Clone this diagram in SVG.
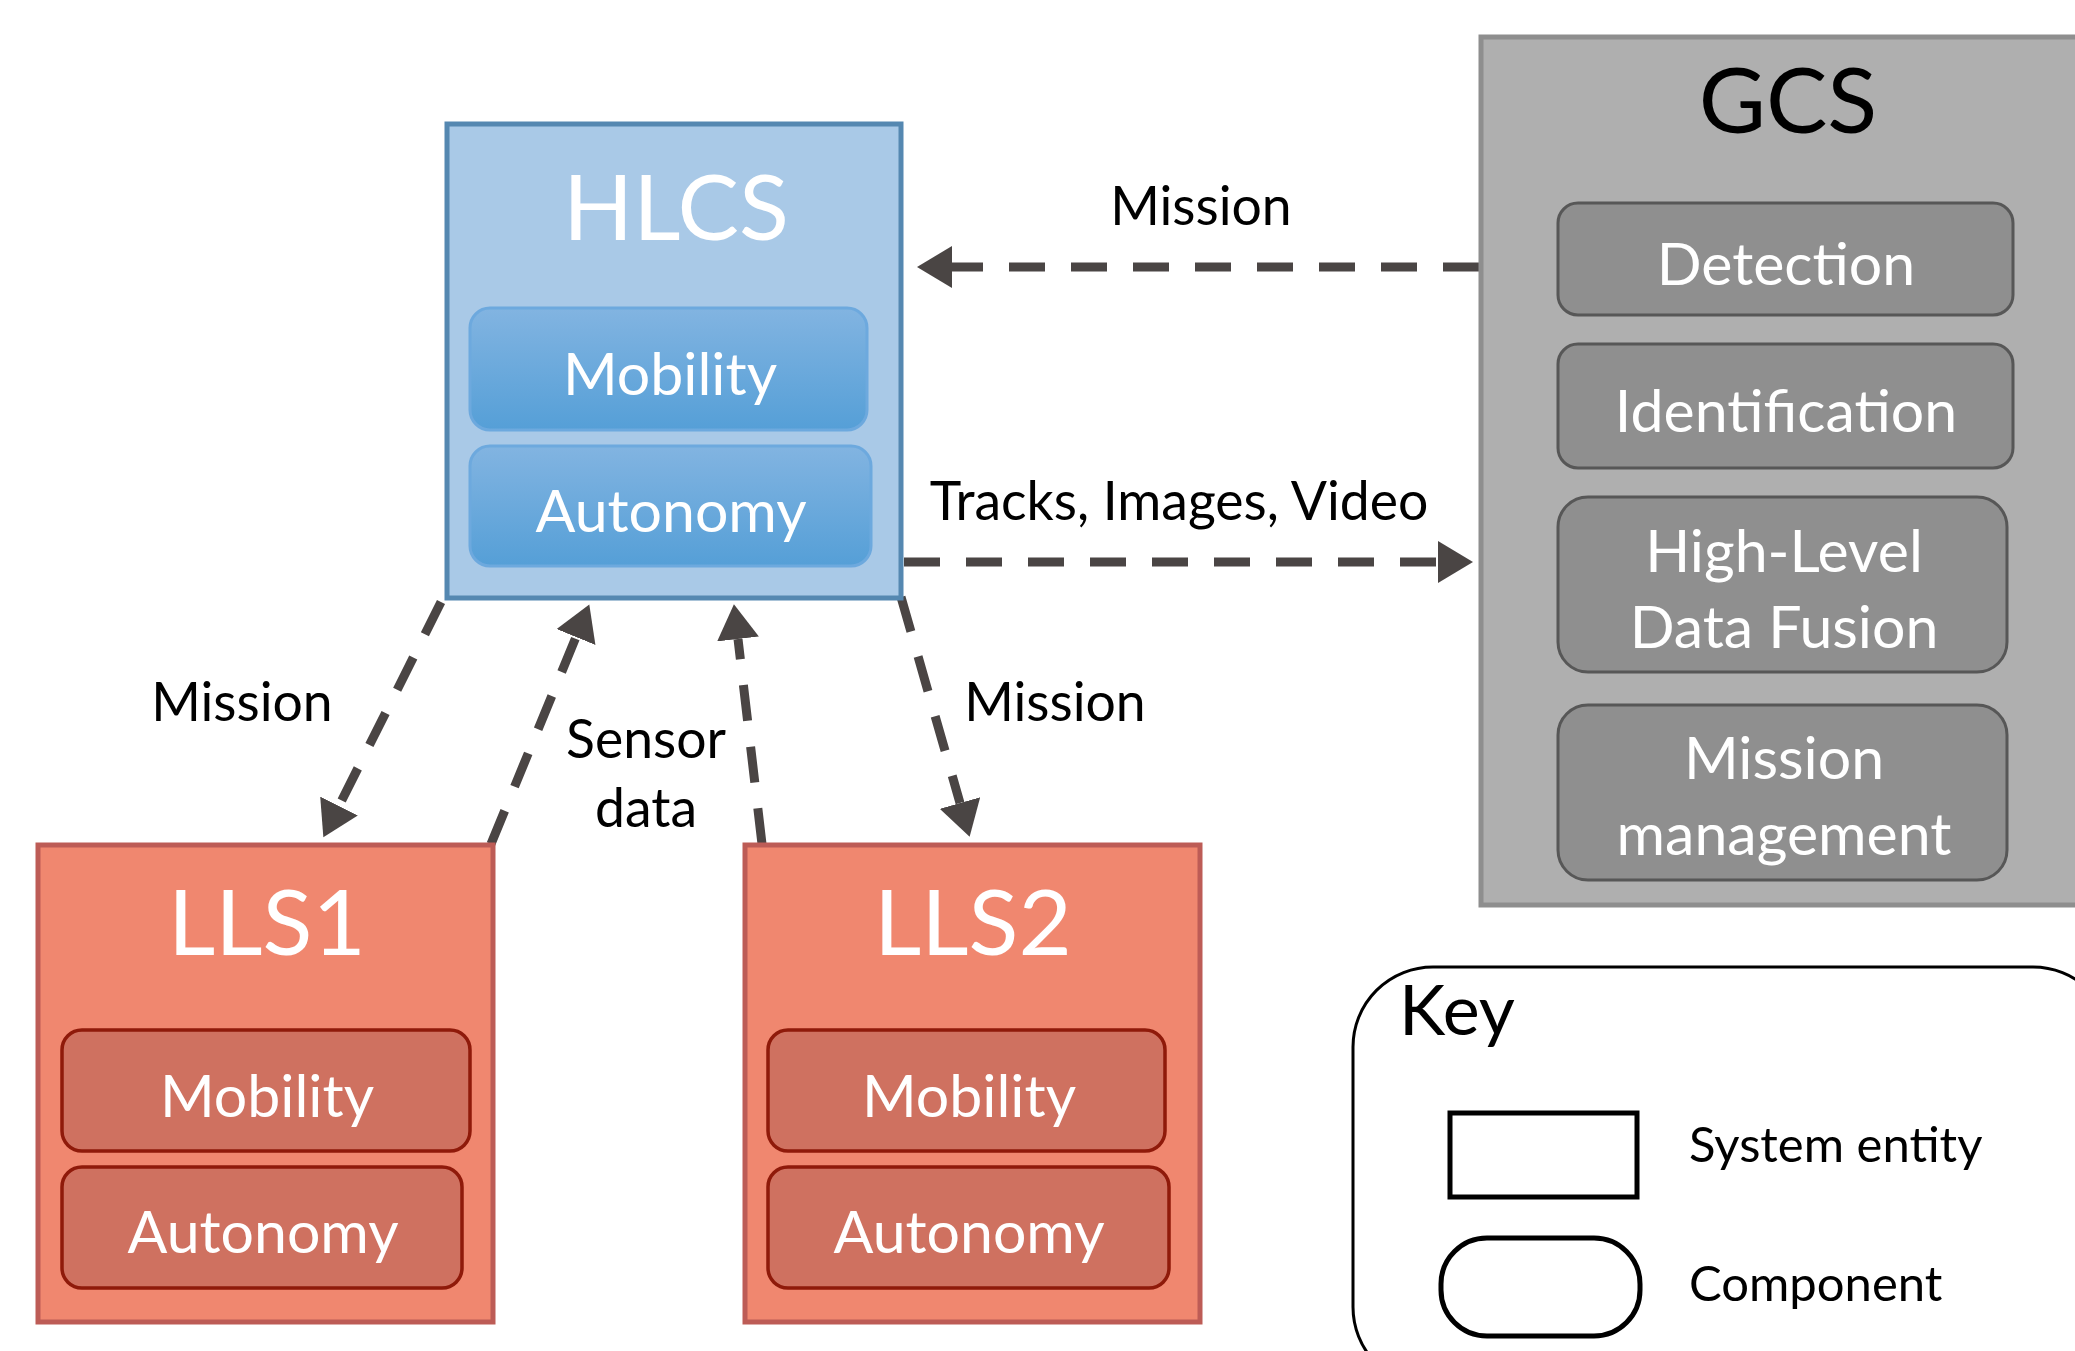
<svg xmlns="http://www.w3.org/2000/svg" width="2075" height="1351" viewBox="0 0 2075 1351">
<style>
text{font-family:Lato,"Open Sans","Liberation Sans",sans-serif;text-anchor:middle}
.title{font-size:92px;fill:#fff}
.comp{font-size:59px;fill:#fff}
.lbl{font-size:53.5px;fill:#000}
.hl-ent{fill:#A9C9E7;stroke:#5588B1;stroke-width:5}
.hl-comp{fill:url(#blueGrad);stroke:#6DA9DE;stroke-width:3}
.ll-ent{fill:#F0876F;stroke:#BD5C56;stroke-width:5}
.ll-comp{fill:#CF7160;stroke:#8F1A0A;stroke-width:3.5}
.gc-ent{fill:#AFAFAF;stroke:#8E8E8E;stroke-width:5}
.gc-comp{fill:#8F8F8F;stroke:#575757;stroke-width:3}
.conn{fill:none;stroke:#4A4544;stroke-width:9;stroke-dasharray:36 26;marker-end:url(#arrow)}
.key{fill:none;stroke:#000}
</style>
<defs>
<linearGradient id="blueGrad" x1="0" y1="0" x2="0" y2="1">
<stop offset="0" stop-color="#82B4E1"/>
<stop offset="1" stop-color="#559FD7"/>
</linearGradient>
<marker id="arrow" markerUnits="userSpaceOnUse" markerWidth="36" markerHeight="42" refX="0" refY="21" orient="auto">
<path d="M0,0 L35,21 L0,42 z" fill="#4A4544"/>
</marker>
</defs>
<rect width="2075" height="1351" fill="#fff"/>

<g id="connectors">
<line class="conn" x1="1479" y1="267" x2="952" y2="267"/>
<line class="conn" x1="904" y1="562" x2="1438" y2="562"/>
<line class="conn" x1="441" y1="602" x2="339" y2="806"/>
<line class="conn" x1="491" y1="844" x2="576" y2="637"/>
<line class="conn" x1="762" y1="844" x2="738" y2="639"/>
<line class="conn" x1="901" y1="597" x2="960" y2="803"/>
<text class="lbl" x="1201" y="225">Mission</text>
<text class="lbl" x="1179" y="520">Tracks, Images, Video</text>
<text class="lbl" x="242" y="721">Mission</text>
<text class="lbl" x="646" y="758">Sensor</text>
<text class="lbl" x="646" y="827">data</text>
<text class="lbl" x="1055" y="721">Mission</text>
</g>

<g id="HLCS">
<rect class="hl-ent" x="447" y="124" width="454" height="474"/>
<text class="title" x="676" y="240">HLCS</text>
<g id="HLCS-Mobility">
<rect class="hl-comp" x="470" y="308" width="397" height="122" rx="20"/>
<text class="comp" x="670" y="395">Mobility</text>
</g>
<g id="HLCS-Autonomy">
<rect class="hl-comp" x="470" y="446" width="401" height="120" rx="20"/>
<text class="comp" x="671" y="532">Autonomy</text>
</g>
</g>

<g id="LLS1">
<rect class="ll-ent" x="38" y="845" width="455" height="477"/>
<text class="title" x="267" y="955">LLS1</text>
<g id="LLS1-Mobility">
<rect class="ll-comp" x="62" y="1030" width="408" height="121" rx="20"/>
<text class="comp" x="267" y="1117">Mobility</text>
</g>
<g id="LLS1-Autonomy">
<rect class="ll-comp" x="62" y="1167" width="400" height="121" rx="20"/>
<text class="comp" x="263" y="1253">Autonomy</text>
</g>
</g>

<g id="LLS2">
<rect class="ll-ent" x="745" y="845" width="455" height="477"/>
<text class="title" x="973" y="955">LLS2</text>
<g id="LLS2-Mobility">
<rect class="ll-comp" x="768" y="1030" width="397" height="121" rx="20"/>
<text class="comp" x="969" y="1117">Mobility</text>
</g>
<g id="LLS2-Autonomy">
<rect class="ll-comp" x="768" y="1167" width="401" height="121" rx="20"/>
<text class="comp" x="969" y="1253">Autonomy</text>
</g>
</g>

<g id="GCS">
<rect class="gc-ent" x="1481" y="37" width="620" height="868"/>
<text class="title" x="1788" y="133" style="fill:#000">GCS</text>
<g id="GCS-Detection">
<rect class="gc-comp" x="1558" y="203" width="455" height="112" rx="20"/>
<text class="comp" x="1786" y="285">Detection</text>
</g>
<g id="GCS-Identification">
<rect class="gc-comp" x="1558" y="344" width="455" height="124" rx="20"/>
<text class="comp" x="1786" y="432">Identification</text>
</g>
<g id="GCS-Fusion">
<rect class="gc-comp" x="1558" y="497" width="449" height="175" rx="30"/>
<text class="comp" x="1784" y="572">High-Level</text>
<text class="comp" x="1784" y="648">Data Fusion</text>
</g>
<g id="GCS-Mission">
<rect class="gc-comp" x="1558" y="705" width="449" height="175" rx="30"/>
<text class="comp" x="1784" y="779">Mission</text>
<text class="comp" x="1784" y="855">management</text>
</g>
</g>

<g id="Key">
<rect class="key" x="1353" y="967" width="760" height="420" rx="80" stroke-width="3"/>
<text x="1399" y="1035" style="font-size:70px;text-anchor:start">Key</text>
<rect class="key" x="1450" y="1113" width="187" height="84" stroke-width="5"/>
<text x="1689" y="1162" style="font-size:49px;text-anchor:start">System entity</text>
<rect class="key" x="1441" y="1238" width="199" height="98" rx="46" stroke-width="5"/>
<text x="1689" y="1301" style="font-size:49px;text-anchor:start">Component</text>
</g>
</svg>
